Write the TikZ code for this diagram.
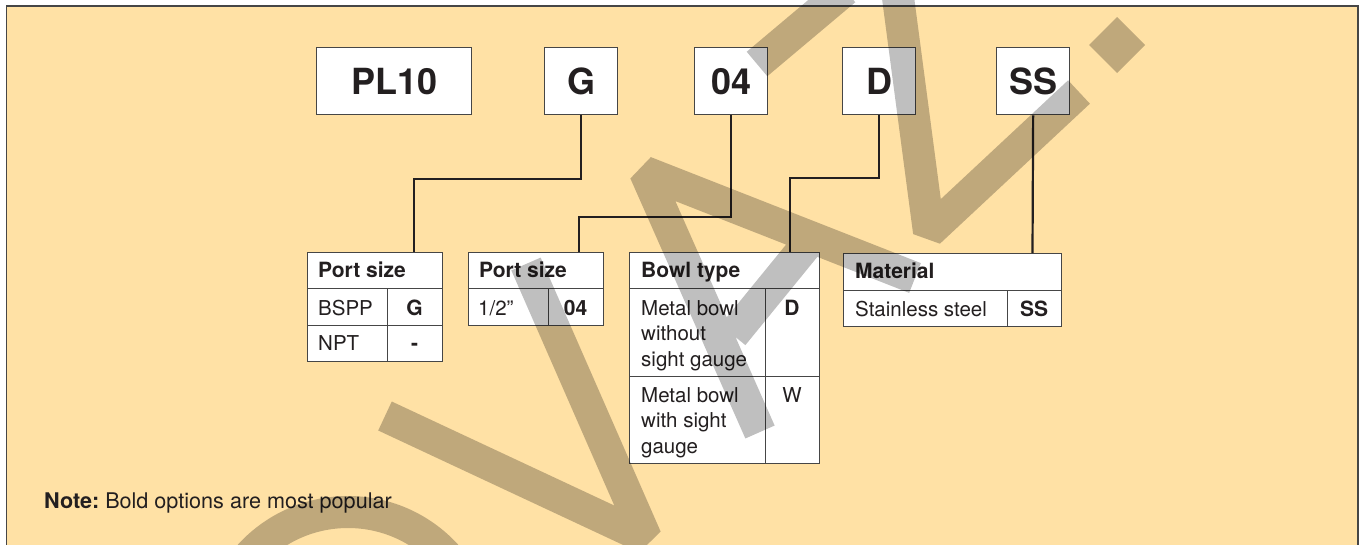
\documentclass[tikz,border=0pt]{standalone}
\usepackage{fontspec}
\setmainfont{TeX Gyre Heros}
\definecolor{bg}{RGB}{255,225,165}
\definecolor{ink}{RGB}{35,31,32}
\definecolor{framec}{RGB}{70,70,70}
\begin{document}
\frenchspacing
\begin{tikzpicture}[x=1pt,y=-1pt,
  box/.style={draw=framec, line width=1.3pt, fill=white, anchor=north west, inner sep=0pt, text=ink},
  big/.style={font=\fontsize{36}{40}\selectfont\bfseries},
  hd/.style={font=\fontsize{21}{25}\selectfont\bfseries, text=ink, anchor=base west, inner sep=0pt},
  tx/.style={font=\fontsize{20.5}{25.5}\selectfont, text=ink, anchor=base west, inner sep=0pt, align=left},
  cb/.style={font=\fontsize{21}{25}\selectfont\bfseries, text=ink, anchor=base, inner sep=0pt},
  cr/.style={font=\fontsize{20.5}{25}\selectfont, text=ink, anchor=base, inner sep=0pt},
  conn/.style={draw=ink, line width=2.2pt},
  wm/.style={black, opacity=0.25, line width=32pt, line join=bevel}
]
\useasboundingbox (0,0) rectangle (1361,544);
\fill[white] (0,0) rectangle (1361,544);
\fill[bg] (6.5,6) rectangle (1358,550);
\draw[framec, line width=1.5pt] (6.5,550) -- (6.5,6) -- (1358,6) -- (1358,550);

% top code boxes
\node[box, big, minimum width=155, minimum height=67] (pl) at (316,47) {PL10};
\node[box, big, minimum width=73, minimum height=67] (G) at (544,47) {G};
\node[box, big, minimum width=73, minimum height=67] (o4) at (694,47) {04};
\node[box, big, minimum width=73, minimum height=67] (D) at (842,47) {D};
\node[box, big, minimum width=73, minimum height=67] (SS) at (996,47) {SS};

% table 1
\node[box, minimum width=135, minimum height=36] (t1h) at (307,252) {};
\node[box, minimum width=80, minimum height=37] (t1a) at (307,288) {};
\node[box, minimum width=55, minimum height=37] (t1b) at (387,288) {};
\node[box, minimum width=80, minimum height=36] (t1c) at (307,325) {};
\node[box, minimum width=55, minimum height=36] (t1d) at (387,325) {};
\node[hd] (t1ht) at (318,277) {Port size};
\node[tx] (t1at) at (318,315) {BSPP};
\node[cb] (t1bt) at (414.5,315) {G};
\node[tx] (t1ct) at (318,350) {NPT};
\node[cb] (t1dt) at (414.5,350) {-};

% table 2
\node[box, minimum width=135, minimum height=36] (t2h) at (468,252) {};
\node[box, minimum width=80, minimum height=37] (t2a) at (468,288) {};
\node[box, minimum width=55, minimum height=37] (t2b) at (548,288) {};
\node[hd] (t2ht) at (479,277) {Port size};
\node[tx] (t2at) at (478,315) {1/2"};
\node[cb] (t2bt) at (575.5,315) {04};

% table 3
\node[box, minimum width=190, minimum height=36] (t3h) at (629,252) {};
\node[box, minimum width=136, minimum height=88] (t3a) at (629,288) {};
\node[box, minimum width=54, minimum height=88] (t3b) at (765,288) {};
\node[box, minimum width=136, minimum height=87] (t3c) at (629,376) {};
\node[box, minimum width=54, minimum height=87] (t3d) at (765,376) {};
\node[hd] (t3ht) at (641,277) {Bowl type};
\node[tx] (t3at) at (641,366) {Metal bowl\\without\\sight gauge};
\node[cb] (t3bt) at (792,315) {D};
\node[tx] (t3ct) at (641,453) {Metal bowl\\with sight\\gauge};
\node[cr] (t3dt) at (792,402) {W};

% table 4
\node[box, minimum width=218, minimum height=37] (t4h) at (843,253) {};
\node[box, minimum width=164, minimum height=36] (t4a) at (843,290) {};
\node[box, minimum width=54, minimum height=36] (t4b) at (1007,290) {};
\node[hd] (t4ht) at (855,278) {Material};
\node[tx] (t4at) at (855,316) {Stainless steel};
\node[cb] (t4bt) at (1034,316) {SS};

% connectors
\coordinate (c1) at (414,252);
\coordinate (c2) at (579,252);
\coordinate (c3) at (790,252);
\coordinate (c4) at (1032.5,253);
\draw[conn] (G.south) -- ++(0,64) -| (c1);
\draw[conn] (o4.south) -- ++(0,102) -| (c2);
\draw[conn] (D.south) -- ++(0,63) -| (c3);
\draw[conn] (SS.south) -- (c4);

% note
\node[tx, font=\fontsize{21.6}{25}\selectfont] (note) at (44,508) {\textbf{Note:} Bold options are most popular};

% watermark
\begin{scope}
\clip (0,0) rectangle (1361,544);
\draw[wm]
 (845,-10) -- (757,64)
 (897,-10) -- (929,232) -- (1079,92)
 (760,432) -- (645,172) -- (915,278)
 (808,243) -- (733,335)
 (385,416) -- (646,538) -- (526,264)
 (348,645) circle[radius=133];
\fill[black, opacity=0.25] (1117,17) -- (1145,45) -- (1117,73) -- (1089,45) -- cycle;
\end{scope}
\end{tikzpicture}
\end{document}
